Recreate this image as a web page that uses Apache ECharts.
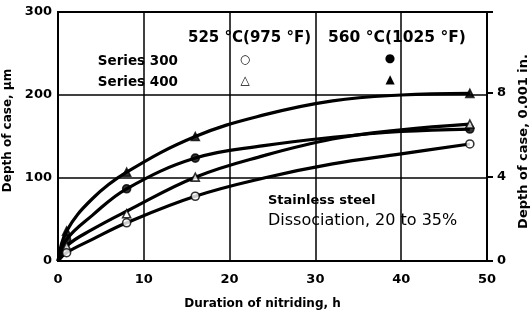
<!DOCTYPE html>
<html>
<head>
<meta charset="utf-8">
<title>Depth of case vs duration of nitriding</title>
<script src="https://cdn.jsdelivr.net/npm/echarts@6/dist/echarts.min.js"></script>
<style>
    html, body { margin: 0; padding: 0; background: #fff; }
    #main { width: 531px; height: 320px; }
</style>
</head>
<body>
<div id="main"></div>
<script>
'use strict';

// 曲线上的时间点 (h)
var hours = [0, 1, 4, 8, 16, 24, 32, 40, 48];
// 四条曲线 (µm)
var curveA = [0, 36, 75, 107, 150, 176, 193, 200, 202];
var curveB = [0, 26, 55, 87, 124, 139, 149, 156, 159];
var curveC = [0, 18, 38, 60, 101, 127, 147, 158, 165];
var curveD = [0, 10, 26, 46, 78, 100, 117, 129, 141];

// 实验点
var markHours = [1, 8, 16, 48];
var markA = [36, 107, 150, 202];
var markB = [26, 87, 124, 159];
var markC = [18, 57, 101, 165];
var markD = [10, 46, 78, 141];

// 刻度
var xTicks = [0, 10, 20, 30, 40, 50];
var yTicks = [0, 100, 200, 300];
var inchTicks = [0, 4, 8];

var FONT = '"DejaVu Sans", sans-serif';

$main();

function $main() {
    var chart = echarts.init(document.getElementById('main'));
    chart.setOption(buildOption());
}

function pairs(xs, ys) {
    var out = [];
    for (var i = 0; i < xs.length; i++) {
        out.push([xs[i], ys[i]]);
    }
    return out;
}

function lineSeries(ys) {
    return {
        type: 'line',
        data: pairs(hours, ys),
        smooth: 0.4,
        showSymbol: false,
        lineStyle: { color: '#000', width: 3.2 },
        z: 3
    };
}

function markSeries(ys, symbol, filled) {
    return {
        type: 'scatter',
        data: pairs(markHours, ys),
        symbol: symbol,
        symbolSize: 8,
        itemStyle: {
            color: filled ? '#000' : '#fff',
            borderColor: '#000',
            borderWidth: 1.6
        },
        z: 4
    };
}

function buildOption() {
    var labelStyle = { color: '#000', fontFamily: FONT, fontWeight: 'bold', fontSize: 13 };
    var nameStyle = { color: '#000', fontFamily: FONT, fontWeight: 'bold', fontSize: 12 };
    return {
        animation: false,
        backgroundColor: '#fff',
        grid: {
            left: 58, right: 44, top: 12, bottom: 59,
            outerBoundsMode: 'none',
            containLabel: false,
            show: true, borderColor: '#000', borderWidth: 2
        },
        xAxis: {
            type: 'value',
            min: xTicks[0],
            max: xTicks[xTicks.length - 1],
            interval: 10,
            name: 'Duration of nitriding, h',
            nameLocation: 'middle',
            nameGap: 37,
            nameTextStyle: Object.assign({ padding: [0, 20, 0, 0] }, nameStyle),
            axisLine: { lineStyle: { color: '#000', width: 2 } },
            axisTick: { show: false },
            axisLabel: Object.assign({ margin: 12 }, labelStyle),
            splitLine: { lineStyle: { color: '#000', width: 1.5 } }
        },
        yAxis: [{
            type: 'value',
            min: yTicks[0],
            max: yTicks[yTicks.length - 1],
            interval: 100,
            name: 'Depth of case, µm',
            nameLocation: 'middle',
            nameRotate: 90,
            nameGap: 36,
            nameTextStyle: Object.assign({ padding: [0, 0, 0, 12] }, nameStyle),
            axisLine: { lineStyle: { color: '#000', width: 2 } },
            axisTick: { show: false },
            axisLabel: Object.assign({ margin: 6 }, labelStyle),
            splitLine: { lineStyle: { color: '#000', width: 1.5 } }
        }, {
            type: 'value',
            position: 'right',
            min: inchTicks[0],
            max: yTicks[yTicks.length - 1] / 25.4,
            interval: 4,
            name: 'Depth of case, 0.001 in.',
            nameLocation: 'middle',
            nameRotate: 90,
            nameGap: 29,
            nameTextStyle: Object.assign({ padding: [0, 10, 0, 0] }, nameStyle, { fontSize: 13 }),
            axisLine: { lineStyle: { color: '#000', width: 2 } },
            axisTick: { show: true, length: 6, lineStyle: { color: '#000', width: 2 } },
            axisLabel: Object.assign({
                margin: 10,
                formatter: function(v) {
                    return inchTicks.indexOf(Math.round(v * 1000) / 1000) >= 0 ? String(v) : '';
                }
            }, labelStyle),
            splitLine: { show: false }
        }],
        graphic: buildTexts(),
        series: [
            lineSeries(curveA),
            lineSeries(curveB),
            lineSeries(curveC),
            lineSeries(curveD),
            markSeries(markA, 'triangle', true),
            markSeries(markB, 'circle', true),
            markSeries(markC, 'triangle', false),
            markSeries(markD, 'circle', false)
        ]
    };
}

// 图内说明文字
function buildTexts() {
    function txt(x, y, s, font, align) {
        return {
            type: 'text', x: x, y: y, z: 10,
            style: {
                text: s,
                fill: '#000',
                font: font + ' ' + FONT,
                align: align || 'left',
                verticalAlign: 'middle'
            }
        };
    }
    return [
        txt(188, 38, '525 °C(975 °F)', 'bold 15px'),
        txt(328, 38, '560 °C(1025 °F)', 'bold 15.5px'),
        txt(178, 61, 'Series 300', 'bold 13.5px', 'right'),
        txt(178, 82, 'Series 400', 'bold 13.5px', 'right'),
        txt(245, 60, '○', 'bold 12px', 'center'),
        txt(245, 81, '△', 'bold 12px', 'center'),
        txt(390, 59, '●', 'bold 12px', 'center'),
        txt(390, 80, '▲', 'bold 12px', 'center'),
        txt(268, 201, 'Stainless steel', 'bold 13px'),
        txt(268, 221, 'Dissociation, 20 to 35%', '16px')
    ];
}
</script>
</body>
</html>
